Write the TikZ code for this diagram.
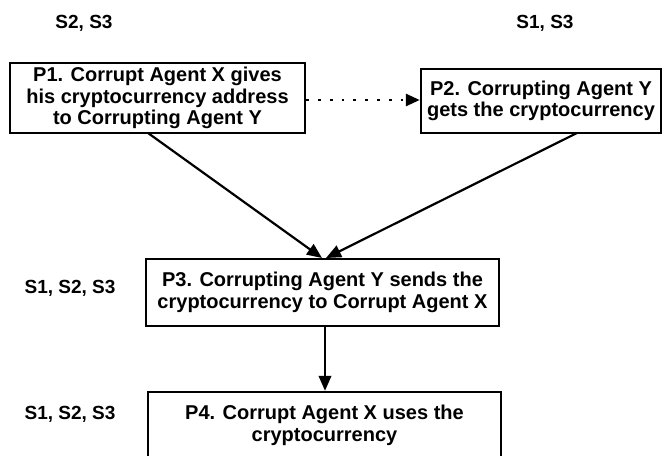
\documentclass[tikz,border=0pt]{standalone}
\usepackage{fontspec}
\setmainfont{Liberation Sans}
\usetikzlibrary{arrows.meta}
\tikzset{
  stepbox/.style={draw, line width=2.4pt, align=center, inner sep=0pt,
    font=\bfseries\fontsize{20}{21.5}\selectfont},
  lbl/.style={font=\bfseries\fontsize{19}{21}\selectfont},
  flow/.style={line width=2.2pt, -{Triangle[length=15pt,width=12.5pt]}},
  dotflow/.style={line width=2.8pt, dash pattern=on 2.8pt off 9pt,
    -{Triangle[length=14pt,width=12pt]}}
}
\begin{document}
\begin{tikzpicture}[x=1pt,y=-1pt]
  \clip (0,0) rectangle (663,455);
  \fill[white] (0,0) rectangle (663,455);

  % scenario labels
  \node[lbl] (s1) at (84,23) {S2, S3};
  \node[lbl] (s2) at (545,23) {S1, S3};
  \node[lbl] (s3) at (70,288) {S1, S2, S3};
  \node[lbl] (s4) at (70,414) {S1, S2, S3};

  % process steps
  \node[stepbox, minimum width=295pt, minimum height=70pt] (p1) at (157.5,98)
    {P1. Corrupt Agent X gives\\his cryptocurrency address\\to Corrupting Agent Y};
  \node[stepbox, minimum width=240pt, minimum height=64pt] (p2) at (541,101)
    {P2. Corrupting Agent Y\\gets the cryptocurrency};
  \node[stepbox, minimum width=353pt, minimum height=67pt] (p3) at (322.5,292.5)
    {P3. Corrupting Agent Y sends the\\cryptocurrency to Corrupt Agent X};
  \node[stepbox, minimum width=353pt, minimum height=84pt] (p4) at (324.5,434)
    {P4. Corrupt Agent X uses the\\cryptocurrency\\\mbox{}};

  % connectors
  \draw[dotflow] (p1.east |- 0,100) -- (p2.west |- 0,100);
  \draw[flow] (148,133) -- (322,258);
  \draw[flow] (577,133) -- (326,258);
  \draw[flow] (p3.south -| 325,0) -- (p4.north -| 325,0);
\end{tikzpicture}
\end{document}
